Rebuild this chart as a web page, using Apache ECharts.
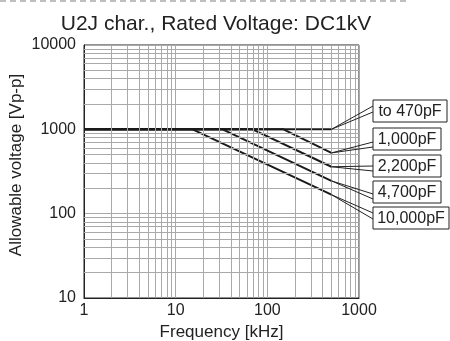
<!DOCTYPE html>
<html>
<head>
<meta charset="utf-8">
<script src="https://cdn.jsdelivr.net/npm/echarts@6/dist/echarts.min.js"></script>
<style>
  html, body { margin: 0; padding: 0; background: #fff; }
  #chart { width: 450px; height: 341px; }
</style>
</head>
<body>
<div id="chart"></div>
<script>
// Allowable voltage vs. frequency, U2J dielectric, rated DC1kV
const titleText = 'U2J char., Rated Voltage: DC1kV';
const xName = 'Frequency [kHz]';
const yName = 'Allowable voltage [Vp-p]';
const xTicks = [1, 10, 100, 1000];
const yTicks = [10, 100, 1000, 10000];

const capLabels = ['to 470pF', '1,000pF', '2,200pF', '4,700pF', '10,000pF'];
// frequency points (kHz) and voltages (Vp-p) for each capacitance
const freq470 = [1, 500];
const volt470 = [1000, 1000];
const freq1000 = [1, 150, 500];
const volt1000 = [1000, 1000, 525];
const freq2200 = [1, 69, 500];
const volt2200 = [1000, 1000, 360];
const freq4700 = [1, 32.5, 500];
const volt4700 = [1000, 1000, 245];
const freq10000 = [1, 15.3, 500];
const volt10000 = [1000, 1000, 168];

const curves = [
  [freq470, volt470],
  [freq1000, volt1000],
  [freq2200, volt2200],
  [freq4700, volt4700],
  [freq10000, volt10000]
];

// callout boxes: top edge, box width, where the pointer meets the box (offsets from top)
const calloutTop = [100, 128, 155, 181, 207];
const calloutWidth = [74, 68, 68, 68, 76];
const calloutNotch = [[6, 12], [14, 19], [11, 16], [13, 18], [6, 12]];

// minor grid positions (2..9 within each decade)
function minorValues(lo, hi) {
  const out = [];
  for (let d = lo; d < hi; d *= 10) {
    for (let m = 2; m <= 9; m++) out.push(m * d);
  }
  return out;
}

const chart = echarts.init(document.getElementById('chart'), null, { renderer: 'canvas' });
const FONT = 'Liberation Sans, Arial, sans-serif';
const gridColor = '#a9a9a9';
const lineColor = '#1a1a1a';

const gridMarks = minorValues(1, 1000).map(v => ({ xAxis: v }))
  .concat(minorValues(10, 10000).map(v => ({ yAxis: v })));

const series = [{
  type: 'line',
  data: [],
  silent: true,
  z: 1,
  markLine: {
    silent: true,
    symbol: 'none',
    label: { show: false },
    lineStyle: { color: gridColor, width: 1, type: 'solid' },
    animation: false,
    data: gridMarks
  }
}];
curves.forEach((c, i) => {
  series.push({
    type: 'line',
    name: capLabels[i],
    data: c[0].map((f, k) => [f, c[1][k]]),
    showSymbol: false,
    symbol: 'none',
    lineStyle: { color: lineColor, width: 2 },
    z: 3,
    animation: false
  });
});

chart.setOption({
  animation: false,
  title: {
    text: titleText,
    left: 211,
    top: 9,
    textAlign: 'center',
    textStyle: { fontFamily: FONT, fontSize: 21, fontWeight: 'normal', color: '#222' }
  },
  grid: {
    left: 84, right: 91, top: 45, bottom: 43,
    containLabel: false, outerBoundsMode: 'none',
    show: true, borderColor: '#222', borderWidth: 1, backgroundColor: 'transparent'
  },
  xAxis: {
    type: 'log', logBase: 10, min: 1, max: 1000,
    name: xName, nameLocation: 'middle', nameGap: 24,
    nameTextStyle: { fontFamily: FONT, fontSize: 17, color: '#222' },
    axisLine: { show: true, lineStyle: { color: '#222', width: 1 } },
    axisTick: { show: false },
    axisLabel: {
      fontFamily: FONT, fontSize: 16, color: '#222', margin: 5,
      formatter: v => { const t = xTicks.find(x => Math.abs(x - v) < 1e-6 * x); return t !== undefined ? String(t) : ''; }
    },
    splitLine: { show: true, lineStyle: { color: gridColor, width: 1 } }
  },
  yAxis: {
    type: 'log', logBase: 10, min: 10, max: 10000,
    axisLine: { show: true, lineStyle: { color: '#222', width: 1 } },
    axisTick: { show: false },
    axisLabel: {
      fontFamily: FONT, fontSize: 16, color: '#222', margin: 8,
      formatter: v => { const t = yTicks.find(y => Math.abs(y - v) < 1e-6 * y); return t !== undefined ? String(t) : ''; }
    },
    splitLine: { show: true, lineStyle: { color: gridColor, width: 1 } }
  },
  series: series
});

// top dashed rule, vertical axis title, and callout boxes pointing at each curve's end
const graphics = [{
  type: 'line',
  shape: { x1: 0, y1: 1, x2: 407, y2: 1 },
  style: { stroke: '#aaa', lineWidth: 1.5, lineDash: [6, 4] },
  silent: true
}, {
  type: 'text',
  x: 16, y: 165,
  rotation: Math.PI / 2,
  style: {
    text: yName, fontFamily: FONT, fontSize: 17, fill: '#222',
    align: 'center', verticalAlign: 'middle'
  },
  silent: true
}];
const boxLeft = 373;
const boxH = 22;
curves.forEach((c, i) => {
  const n = c[0].length - 1;
  const tip = chart.convertToPixel({ seriesIndex: i + 1 }, [c[0][n], c[1][n]]);
  const top = calloutTop[i];
  graphics.push({
    type: 'polyline',
    shape: { points: [[boxLeft, top + calloutNotch[i][0]], tip, [boxLeft, top + calloutNotch[i][1]]] },
    style: { stroke: '#222', lineWidth: 1, fill: null },
    z: 10, silent: true
  });
  graphics.push({
    type: 'rect',
    shape: { x: boxLeft, y: top, width: calloutWidth[i], height: boxH },
    style: { fill: '#fff', stroke: '#222', lineWidth: 1 },
    z: 11, silent: true
  });
  graphics.push({
    type: 'text',
    x: boxLeft + calloutWidth[i] / 2,
    y: top + boxH / 2 + 1,
    style: {
      text: capLabels[i], fontFamily: FONT, fontSize: 16, fill: '#222',
      align: 'center', verticalAlign: 'middle'
    },
    z: 12, silent: true
  });
});
chart.setOption({ graphic: graphics });
</script>
</body>
</html>
